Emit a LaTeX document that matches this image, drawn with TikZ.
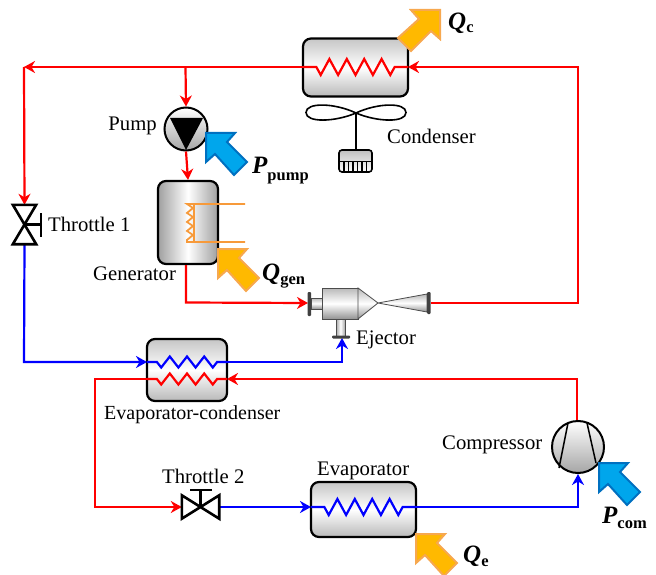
\documentclass[tikz,border=0pt]{standalone}
\usepackage{fontspec}
\setmainfont{Liberation Serif}
\usetikzlibrary{arrows.meta,calc}

\definecolor{heatfill}{HTML}{FFB900}
\definecolor{heatline}{HTML}{F7A84F}
\definecolor{powerfill}{HTML}{00A6EC}
\definecolor{powerline}{HTML}{0070C0}
\definecolor{coilorange}{HTML}{F79A3A}

\tikzset{
  pipe/.style={line width=2.2pt},
  flow/.style={-{Stealth[length=11pt,width=12pt,inset=3.5pt]}},
  hxbox/.style={draw=black,line width=2.2pt,rounded corners=8pt,inner sep=0pt,
    top color=gray!45,bottom color=gray!55,middle color=white},
  gbox/.style={draw=black,line width=2.2pt,rounded corners=8pt,inner sep=0pt,
    left color=gray!75,right color=gray!75,middle color=white},
  ball/.style={circle,draw=black,line width=2pt,inner sep=0pt,top color=white,bottom color=gray!70},
  valvebox/.style={inner sep=0pt},
  valve/.style={draw=black,line width=2.6pt,line join=miter},
  metal/.style={draw=gray!60!black,line width=.8pt,top color=gray!55,bottom color=gray!85,middle color=white},
  flange/.style={fill=gray!50!black,rounded corners=1pt},
  lbl/.style={inner sep=0pt,font=\fontsize{20.7}{22}\selectfont},
  heatarrow/.style={fill=heatfill,draw=heatline,line width=2pt},
  powerarrow/.style={fill=powerfill,draw=powerline,line width=2pt},
  qlbl/.style={inner sep=0pt,anchor=base west}
}

% colour, in, out, peaks, half step, half height
\newcommand{\heatcoil}[6]{
  \pgfmathsetmacro{\halfw}{(#4+.5)*#5}
  \draw[pipe,#1,line join=miter] (#2) -- ($(#2)!.5!(#3)+(-\halfw,0)$) -- ++(.5*#5,#6)
    foreach \k in {1,...,#4} { -- ++(#5,-2*#6) -- ++(#5,2*#6) } -- ++(.5*#5,-#6) -- (#3);
}
\newcommand{\blockarrow}[3][]{
  \draw[#2,shift={(#3)},#1] (0,0) -- (29,0) -- (21,9) -- (41,29) -- (28,42) -- (9,21) -- (0,29) -- cycle;
}
\newcommand{\sublabel}[3]{{\fontsize{25}{26}\selectfont\bfseries\itshape #1}\raisebox{#3}{\fontsize{16.5}{18}\selectfont\bfseries #2}}

\begin{document}
\begin{tikzpicture}[x=1pt,y=-1pt]
  \useasboundingbox (0,0) rectangle (656,575);
  % components
  \node [hxbox,minimum width=105pt,minimum height=58pt] at (355.5,67.5) (cond) {};
  \node [gbox,minimum width=60pt,minimum height=83pt] at (188,222.5) (gen) {};
  \node [hxbox,minimum width=80pt,minimum height=62pt] at (187,370) (evapcond) {};
  \node [hxbox,minimum width=105pt,minimum height=55pt] at (363.5,509.5) (evap) {};
  \node [ball,minimum size=43pt] at (186,129) (pump) {};
  \node [ball,minimum size=52pt] at (578,447) (comp) {};
  \node [valvebox,minimum width=23pt,minimum height=39pt] at (24.5,224.5) (thr1) {};
  \node [valvebox,minimum width=37pt,minimum height=23pt] at (200.5,507) (thr2) {};

  \coordinate (cond-l) at (303,67);
  \coordinate (cond-r) at (408,67);
  \coordinate (ec-bl) at (147,362);
  \coordinate (ec-br) at (227,362);
  \coordinate (ec-rl) at (147,379);
  \coordinate (ec-rr) at (227,379);
  \coordinate (evap-l) at (311,507);
  \coordinate (evap-r) at (416,507);
  \coordinate (ej-in) at (308,303);
  \coordinate (ej-out) at (431,303);
  \coordinate (ej-suc) at (342,338);
  \coordinate (split) at (185.5,67);
  \coordinate (cnr-tl) at (24,67);
  \coordinate (cnr-tr) at (578,67);
  \coordinate (cnr-br) at (578,303);
  \coordinate (cnr-gen) at (186,302.5);
  \coordinate (cnr-bl) at (24,362);
  \coordinate (cnr-suc) at (342,362);
  \coordinate (cnr-ec) at (577,379);
  \coordinate (cnr-r1) at (95,379);
  \coordinate (cnr-r2) at (95,507);
  \coordinate (cnr-evap) at (578,507);

  % red lines
  \draw[pipe,red,flow] (cond-l) -- (cnr-tl);
  \draw[pipe,red,flow] (cnr-tl) -- (thr1.north);
  \draw[pipe,red,flow] (split) -- (pump.north);
  \draw[pipe,red,flow] (pump.south) -- (gen.north);
  \draw[pipe,red,flow] (gen.south -| cnr-gen) -- (cnr-gen) -- (ej-in);
  \draw[pipe,red,flow] (ej-out) -- (cnr-br) -- (cnr-tr) -- (cond-r);
  \draw[pipe,red,flow] (comp.north -| cnr-ec) -- (cnr-ec) -- (ec-rr);
  \draw[pipe,red,flow] (ec-rl) -- (cnr-r1) -- (cnr-r2) -- (thr2.west);
  % blue lines
  \draw[pipe,blue,flow] (thr1.south) -- (cnr-bl) -- (ec-bl);
  \draw[pipe,blue,flow] (ec-br) -- (cnr-suc) -- (ej-suc);
  \draw[pipe,blue,flow] (thr2.east) -- (evap-l);
  \draw[pipe,blue,flow] (evap-r) -- (cnr-evap) -- (comp.south);

  % coils
  \heatcoil{red}{cond-l}{cond-r}{4}{8.7}{8}
  \heatcoil{blue}{ec-bl}{ec-br}{3}{8.6}{5.5}
  \heatcoil{red}{ec-rl}{ec-rr}{3}{8.6}{5.5}
  \heatcoil{blue}{evap-l}{evap-r}{4}{8.7}{8}
  \draw[coilorange,line width=1.8pt] (245,204) -- (187,204)
    foreach \k in {0,...,3} { -- ++(6,4) -- ++(-6,5) } -- (187,242) -- (245,242);
  \draw[coilorange,line width=1.8pt] (194,204) -- (194,242);

  % pump and compressor
  \fill[black] (170,118) -- (203,118) -- (186,150) -- cycle;
  \draw[black,line width=1.5pt] (568,423) -- (559,468);
  \draw[black,line width=1.5pt] (587,423) -- (596,463);

  % valves
  \draw[valve] (thr1.north west) -- (thr1.north east) -- (thr1.south west) -- (thr1.south east) -- cycle;
  \draw[valve] (thr1.center) -- (41,224.5);
  \draw[valve] (41,213) -- (41,237);
  \draw[valve] (thr2.north west) -- (thr2.south east) -- (thr2.north east) -- (thr2.south west) -- cycle;
  \draw[valve] (thr2.center) -- (200.5,490);
  \draw[valve] (190,490) -- (212,490);

  % fan
  \coordinate (fan) at (356,113);
  \draw[black,line width=1.6pt] (fan) .. controls (335,103) and (306,102) .. (306,112.5)
    .. controls (306,123) and (335,122) .. (fan)
    .. controls (377,103) and (406,102) .. (406,112.5)
    .. controls (406,123) and (377,122) .. (fan) -- (356,150);
  \node [draw=black,line width=1.6pt,rounded corners=3pt,inner sep=0pt,minimum width=33pt,minimum height=22pt,
    top color=gray!50,bottom color=white] at (355.5,161) (motor) {};
  \foreach \x in {344,348.5,353,357.5,362,366.5}
    \draw[black,line width=1.6pt] (\x,162) -- (\x,171);
  \draw[black,line width=1.4pt] (339,161.5) -- (372,161.5);

  % ejector
  \path[metal] (311,298) rectangle (322,309);
  \path[metal,left color=gray!70,right color=gray!70,middle color=white] (336,319) rectangle (345,336);
  \path[metal] (322,288) rectangle (358,319);
  \path[metal] (358,288) -- (378,303) -- (358,319) -- cycle;
  \path[metal] (378,303) -- (427,294) -- (427,312) -- cycle;
  \fill[flange] (307.5,292) rectangle (311,316);
  \fill[flange] (427,292) rectangle (430.5,314);
  \fill[flange] (332,335.5) rectangle (350,338.5);

  % heat and power arrows
  \blockarrow[rotate=-90]{heatarrow}{440,10}
  \blockarrow{heatarrow}{218,249}
  \blockarrow{heatarrow}{416,534}
  \blockarrow{powerarrow}{206,133}
  \blockarrow{powerarrow}{599,463}

  % labels
  \node [lbl,anchor=east] at (157,126) (lb-pump) {Pump};
  \node [lbl,anchor=west] at (387,136) (lb-cond) {Condenser};
  \node [lbl,anchor=west] at (48,224) (lb-thr1) {Throttle 1};
  \node [lbl,anchor=west] at (93,274) (lb-gen) {Generator};
  \node [lbl,anchor=west] at (356,340) (lb-ej) {Ejector};
  \node [lbl,anchor=west,font=\fontsize{20}{22}\selectfont] at (104,415) (lb-ec) {Evaporator-condenser};
  \node [lbl,anchor=west] at (162,476) (lb-thr2) {Throttle 2};
  \node [lbl,anchor=west] at (317,471) (lb-evap) {Evaporator};
  \node [lbl,anchor=west] at (442,445) (lb-comp) {Compressor};
  \node [qlbl] at (448,30) (lb-qc) {\sublabel{Q}{c}{-3pt}};
  \node [qlbl] at (262,280) (lb-qgen) {\sublabel{Q}{gen}{-4pt}};
  \node [qlbl] at (463,562) (lb-qe) {\sublabel{Q}{e}{-4pt}};
  \node [qlbl] at (252,174) (lb-ppump) {\sublabel{P}{pump}{-6pt}};
  \node [qlbl] at (602,523) (lb-pcom) {\sublabel{P}{com}{-5pt}};
\end{tikzpicture}
\end{document}
